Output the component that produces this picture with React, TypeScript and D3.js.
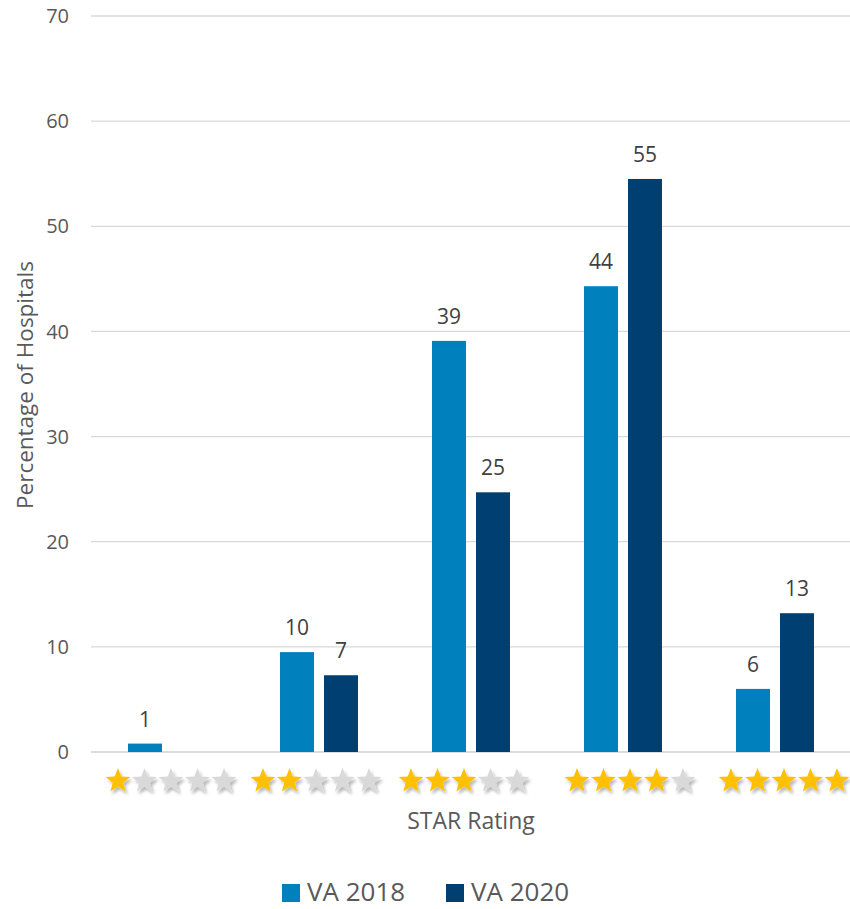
import React from "react";
import * as d3 from "d3";

const categories = ["1 star", "2 stars", "3 stars", "4 stars", "5 stars"];
const starCounts = [1, 2, 3, 4, 5];
const seriesNames = ["VA 2018", "VA 2020"];
const va2018 = [0.8, 9.5, 39.1, 44.3, 6.0];
const va2020 = [0, 7.3, 24.7, 54.5, 13.2];
const labels2018 = ["1", "10", "39", "44", "6"];
const labels2020 = ["", "7", "25", "55", "13"];
const yTicks = [0, 10, 20, 30, 40, 50, 60, 70];

const W = 850;
const H = 909;
const colors = ["#0081BD", "#003F72"];
const font = "'Open Sans', 'Liberation Sans', sans-serif";
const textColor = "#595959";

function starPath(cx: number, cy: number, R: number, r: number) {
  const pts: string[] = [];
  for (let i = 0; i < 10; i++) {
    const rad = i % 2 === 0 ? R : r;
    const a = -Math.PI / 2 + (i * Math.PI) / 5;
    pts.push(`${(cx + rad * Math.cos(a)).toFixed(2)},${(cy + rad * Math.sin(a)).toFixed(2)}`);
  }
  return "M" + pts.join("L") + "Z";
}

export default function App() {
  const x = d3.scaleBand<string>().domain(categories).range([91, 851]).paddingInner(0).paddingOuter(0);
  const y = d3.scaleLinear().domain([0, 70]).range([752, 16]);
  const barW = 34;
  const gap = 10;
  const series = [va2018, va2020];
  const seriesLabels = [labels2018, labels2020];
  const starShift = [4, -3, -7, 7, 9];

  return (
    <svg width={W} height={H} style={{ position: "absolute", left: 0, top: 0, background: "#fff" }}>
      <defs>
        <filter id="sh" x="-50%" y="-50%" width="200%" height="200%">
          <feDropShadow dx="2" dy="3" stdDeviation="1.6" floodColor="#000" floodOpacity="0.28" />
        </filter>
      </defs>
      {yTicks.map((t) => (
        <g key={t}>
          <line x1={91} x2={851} y1={y(t)} y2={y(t)} stroke={t === 0 ? "#D0D0D0" : "#D9D9D9"} strokeWidth={1.3} />
          <text x={69} y={y(t)} dy="0.36em" textAnchor="end" fontFamily={font} fontSize={20} fill={textColor}>
            {t}
          </text>
        </g>
      ))}
      {categories.map((c, ci) => {
        const cx = (x(c) as number) + x.bandwidth() / 2;
        return (
          <g key={c}>
            {series.map((s, si) => {
              const v = s[ci];
              if (v <= 0) return null;
              const bx = si === 0 ? cx - gap / 2 - barW : cx + gap / 2;
              return (
                <g key={si}>
                  <rect x={bx} y={y(v)} width={barW} height={y(0) - y(v)} fill={colors[si]} />
                  <text
                    x={bx + barW / 2}
                    y={y(v) - 17}
                    textAnchor="middle"
                    fontFamily={font}
                    fontSize={21}
                    fill="#404040"
                  >
                    {seriesLabels[si][ci]}
                  </text>
                </g>
              );
            })}
            {d3.range(5).map((k) => {
              const sx = cx + (k - 2) * 26.5 + starShift[ci];
              return (
                <path
                  key={k}
                  d={starPath(sx, 781, 13, 5.6)}
                  fill={k < starCounts[ci] ? "#FFC000" : "#D9D9D9"}
                  filter="url(#sh)"
                />
              );
            })}
          </g>
        );
      })}
      <text x={471} y={829} textAnchor="middle" fontFamily={font} fontSize={23} fill={textColor}>
        STAR Rating
      </text>
      <text
        transform={`translate(33,385) rotate(-90)`}
        textAnchor="middle"
        fontFamily={font}
        fontSize={22.5}
        fill={textColor}
      >
        Percentage of Hospitals
      </text>
      {seriesNames.map((n, i) => {
        const lx = i === 0 ? 282 : 446;
        return (
          <g key={n}>
            <rect x={lx} y={884} width={18} height={18} fill={colors[i]} />
            <text x={lx + 25} y={900.5} fontFamily={font} fontSize={26} fill={textColor}>
              {n}
            </text>
          </g>
        );
      })}
    </svg>
  );
}
